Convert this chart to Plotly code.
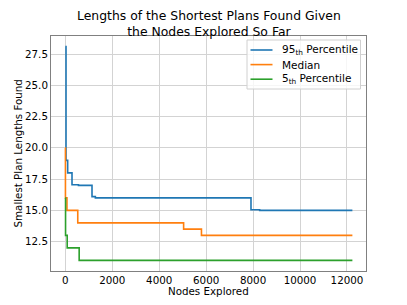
import plotly.graph_objects as go

# Data (step functions: value holds until next x)
nodes_95 = [0, 30, 100, 285, 560, 1137, 1280, 7910, 8280, 12230]
len_95 = [28.1, 19.0, 18.0, 17.05, 17.0, 16.1, 16.0, 15.05, 15.0, 15.0]

nodes_med = [0, 5, 70, 530, 5040, 5800, 12230]
len_med = [20.0, 16.0, 15.0, 14.0, 13.5, 13.0, 13.0]

nodes_5 = [0, 10, 80, 590, 12230]
len_5 = [16.0, 13.0, 12.0, 11.0, 11.0]

x_ticks = [0, 2000, 4000, 6000, 8000, 10000, 12000]
y_ticks = [12.5, 15.0, 17.5, 20.0, 22.5, 25.0, 27.5]

series_names = ["95<sub>th</sub> Percentile", "Median", "5<sub>th</sub> Percentile"]
series_colors = ["#1f77b4", "#ff7f0e", "#2ca02c"]

FONT = "DejaVu Sans"
W, H = 407, 305
L, R, T, B = 51, 41, 36, 34
PW, PH = W - L - R, H - T - B


def px_x(p):
    return (p - L) / PW


def px_y(p):
    return (H - B - p) / PH


fig = go.Figure()
for xs, ys, name, color in zip([nodes_95, nodes_med, nodes_5], [len_95, len_med, len_5],
                               series_names, series_colors):
    fig.add_trace(go.Scatter(x=xs, y=ys, mode="lines", name=name, showlegend=False,
                             line=dict(color=color, width=1.6, shape="hv")))

shapes = []
annotations = []
# legend box
shapes.append(dict(type="rect", xref="paper", yref="paper",
                   x0=px_x(247), x1=px_x(360.5), y0=px_y(89), y1=px_y(40),
                   line=dict(color="#d0d0d0", width=1), fillcolor="rgba(255,255,255,0.8)",
                   layer="above"))
for i, (name, color) in enumerate(zip(series_names, series_colors)):
    yc = 50 + i * 14.6
    shapes.append(dict(type="line", xref="paper", yref="paper",
                       x0=px_x(250.5), x1=px_x(272.5), y0=px_y(yc), y1=px_y(yc),
                       line=dict(color=color, width=1.6), layer="above"))
    annotations.append(dict(xref="paper", yref="paper", x=px_x(280), y=px_y(yc),
                            xanchor="left", yanchor="middle", showarrow=False,
                            text=name, font=dict(size=10.5, family=FONT, color="black")))
# title (two lines)
annotations.append(dict(xref="paper", yref="paper", x=px_x(209), y=px_y(23),
                        xanchor="center", yanchor="middle", showarrow=False,
                        text="Lengths of the Shortest Plans Found Given<br>the Nodes Explored So Far",
                        font=dict(size=12.4, family=FONT, color="black")))
# axis titles
annotations.append(dict(xref="paper", yref="paper", x=px_x(208.5), y=px_y(291),
                        xanchor="center", yanchor="middle", showarrow=False,
                        text="Nodes Explored", font=dict(size=10.3, family=FONT, color="black")))
annotations.append(dict(xref="paper", yref="paper", x=px_x(17), y=px_y(153.5),
                        xanchor="center", yanchor="middle", showarrow=False, textangle=-90,
                        text="Smallest Plan Lengths Found",
                        font=dict(size=10.3, family=FONT, color="black")))

fig.update_layout(
    width=W, height=H,
    margin=dict(l=L, r=R, t=T, b=B),
    paper_bgcolor="white", plot_bgcolor="white",
    font=dict(family=FONT, size=10, color="black"),
    showlegend=False,
    shapes=shapes, annotations=annotations,
)
fig.update_xaxes(range=[-610, 12810], tickvals=x_ticks, ticktext=[str(v) for v in x_ticks],
                 showgrid=True, gridcolor="#d3d3d3", gridwidth=1, zeroline=False,
                 showline=True, linecolor="#808080", linewidth=1, mirror=True,
                 ticks="", automargin=False, tickfont=dict(size=10.3))
fig.update_yaxes(range=[10.15, 28.95], tickvals=y_ticks, ticktext=[f"{v:.1f}" for v in y_ticks],
                 showgrid=True, gridcolor="#d3d3d3", gridwidth=1, zeroline=False,
                 showline=True, linecolor="#808080", linewidth=1, mirror=True,
                 ticks="", automargin=False, tickfont=dict(size=10.3))

fig.write_html("out.html", config={"displayModeBar": False},
               post_script="document.body.style.margin='0';document.body.style.overflow='hidden';")
